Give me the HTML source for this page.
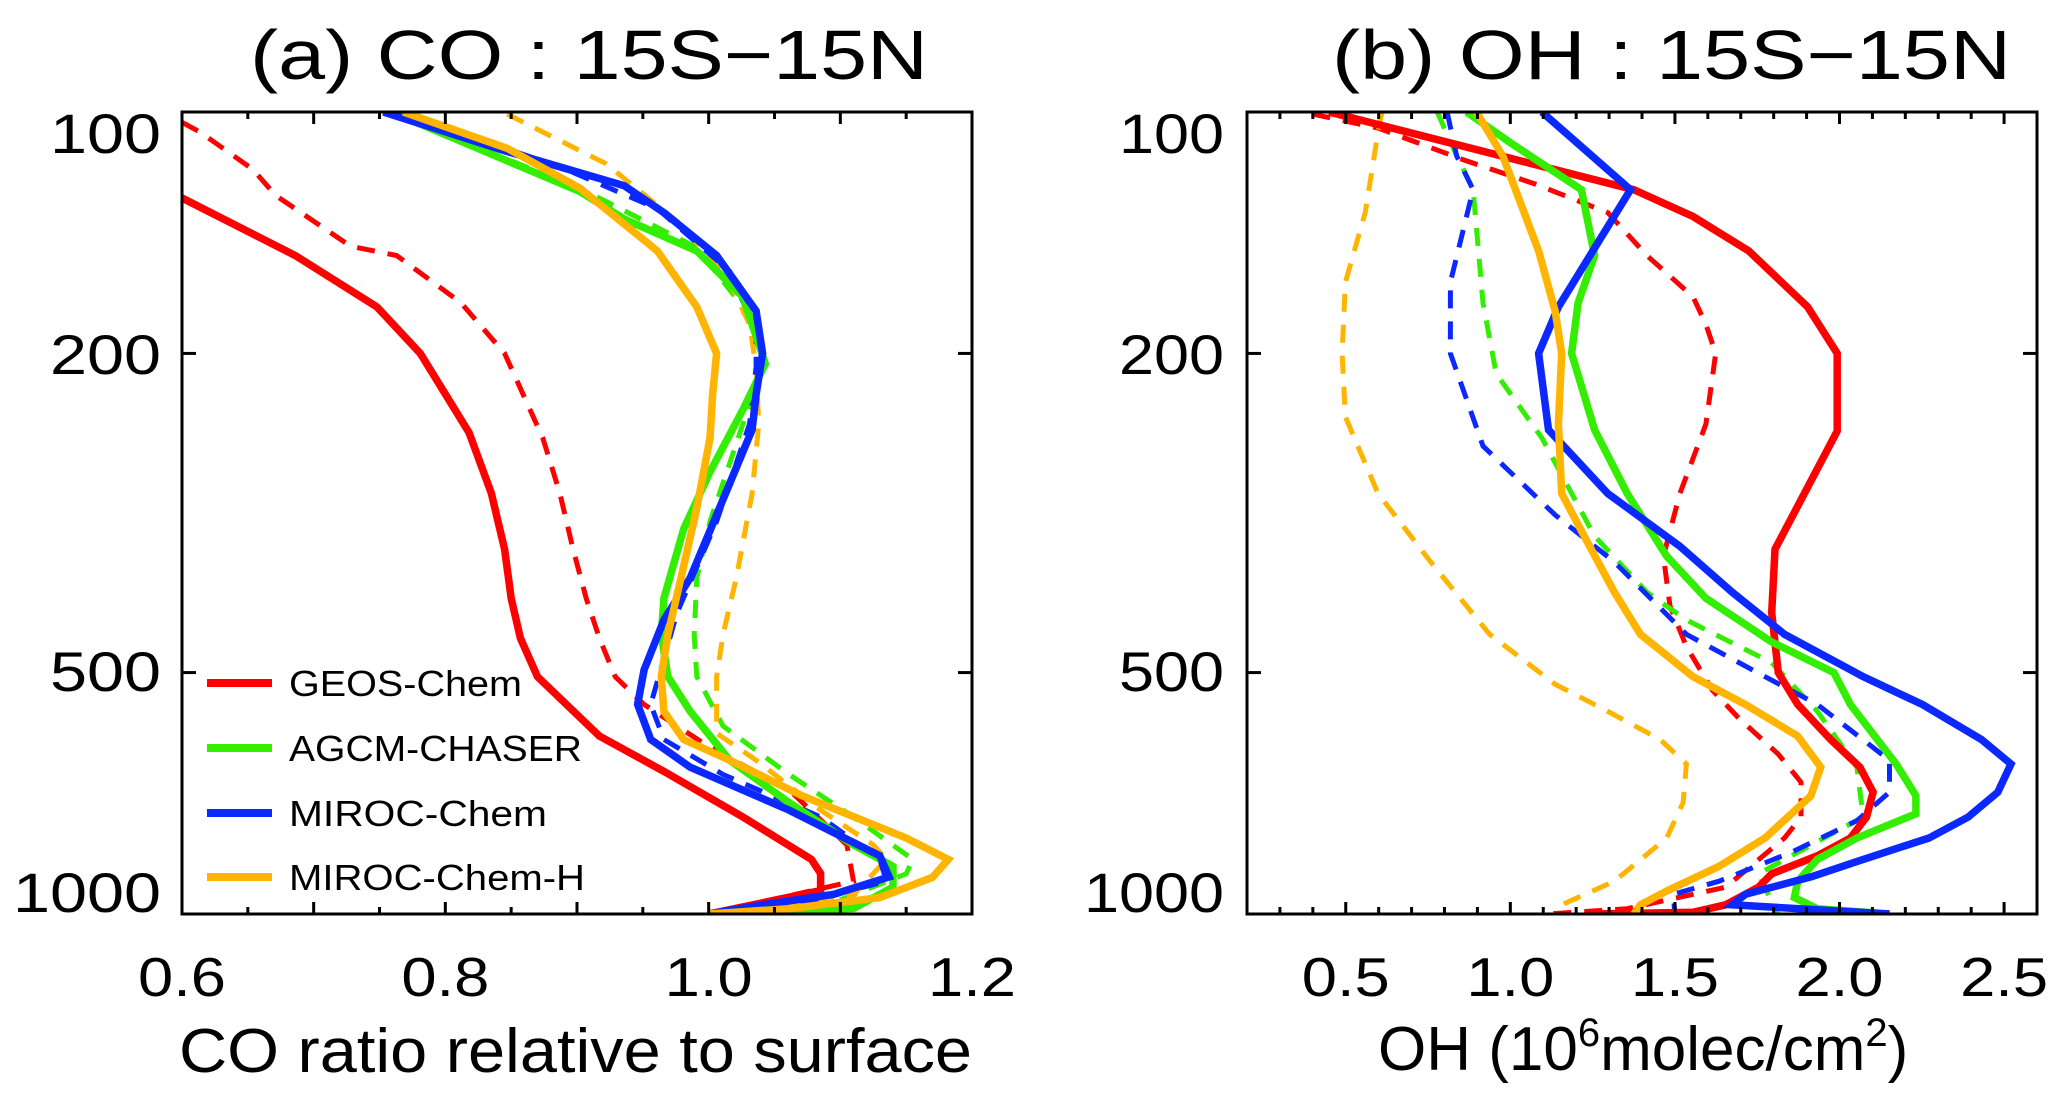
<!DOCTYPE html>
<html><head><meta charset="utf-8"><style>
html,body{margin:0;padding:0;background:#fff;}
svg{display:block;font-family:"Liberation Sans",Arial,sans-serif;}
</style></head><body>
<svg id="chart" width="2067" height="1103" viewBox="0 0 2067 1103" xmlns="http://www.w3.org/2000/svg">
<rect x="0" y="0" width="2067" height="1103" fill="#fff"/>
<g id="panelA"></g>
<g id="panelB"></g>
</svg>
<script>
// ---------- Panel (a) CO data ----------
const aXTicks = [0.6, 0.8, 1.0, 1.2];
const aXTickLabels = ["0.6", "0.8", "1.0", "1.2"];
const yTicks = [100, 200, 500, 1000];
const yTickLabels = ["100", "200", "500", "1000"];
const seriesNames = ["GEOS-Chem", "AGCM-CHASER", "MIROC-Chem", "MIROC-Chem-H"];

const aGeosSolidP = [128,151,175,200,251,299,351,404,453,506,600,664,757,855,890,935,1000];
const aGeosSolidV = [0.600,0.686,0.748,0.781,0.818,0.835,0.845,0.850,0.857,0.870,0.917,0.966,1.026,1.078,1.085,1.085,1.0];
const aGeosDashP = [103,106,118,127,147,151,173,200,255,299,351,404,453,506,548,620,700,820,910,1000];
const aGeosDashV = [0.600,0.614,0.654,0.671,0.728,0.763,0.812,0.845,0.874,0.887,0.897,0.907,0.917,0.929,0.951,1.001,1.061,1.105,1.110,1.0];
const aAgcmSolidP = [100.6,125.6,136,149,170,206,235,281,331,404,448,506,559,643,726,820,872,926,984,1000];
const aAgcmSolidV = [0.763,0.902,0.936,0.991,1.026,1.043,1.026,1.001,0.981,0.966,0.964,0.969,0.986,1.016,1.061,1.110,1.140,1.140,1.110,1.0];
const aAgcmDashP = [100.6,125.6,147.6,181,204,245,324,381,448,506,583,670,757,855,891,960,1000];
const aAgcmDashV = [0.763,0.907,0.991,1.033,1.043,1.026,1.001,0.991,0.989,0.991,1.011,1.061,1.110,1.155,1.150,1.100,1.0];
const aMirocSolidP = [100,112,123.6,133.5,151,177,200,225,249,318,381,430,496,548,606,656,742,846,899,945,974,1000];
const aMirocSolidV = [0.753,0.847,0.936,0.966,1.006,1.036,1.041,1.036,1.033,1.006,0.986,0.966,0.951,0.946,0.956,0.986,1.061,1.130,1.137,1.095,1.041,1.0];
const aMirocDashP = [100,117,132,158,188,208,245,324,421,548,606,670,757,855,910,960,1000];
const aMirocDashV = [0.763,0.887,0.961,1.016,1.036,1.036,1.031,1.006,0.976,0.956,0.966,1.011,1.085,1.130,1.135,1.080,1.0];
const aMirocHSolidP = [100,111,124.4,149,175,200,225,255,312,381,448,506,559,606,643,711,804,855,900,954,985,1000];
const aMirocHSolidV = [0.768,0.847,0.902,0.961,0.991,1.006,1.003,1.001,0.991,0.979,0.969,0.964,0.966,0.981,1.016,1.070,1.150,1.182,1.170,1.130,1.061,1.0];
const aMirocHDashP = [100.6,116,139,163,184,208,245,299,381,448,506,595,643,742,820,855,947,1000];
const aMirocHDashV = [0.847,0.922,0.981,1.016,1.031,1.036,1.038,1.033,1.021,1.011,1.006,1.006,1.036,1.085,1.125,1.135,1.110,1.0];

// ---------- Panel (b) OH data ----------
const bXTicks = [0.5, 1.0, 1.5, 2.0, 2.5];
const bXTickLabels = ["0.5", "1.0", "1.5", "2.0", "2.5"];

const bGeosSolidP = [100,125,135,149,175,200,250,351,421,500,548,606,656,705,757,804,846,891,926,974,995,1000];
const bGeosSolidV = [0.449,1.375,1.555,1.724,1.903,1.993,1.993,1.804,1.794,1.814,1.873,1.973,2.062,2.102,2.082,2.033,1.933,1.794,1.754,1.654,1.555,1.236];
const bGeosDashP = [100.6,104.7,114.7,123,133.5,151,170,184,200,245,299,358,413,464,526,570,632,685,757,804,926,985,1000];
const bGeosDashV = [0.399,0.598,0.857,1.076,1.296,1.415,1.555,1.594,1.624,1.594,1.515,1.465,1.485,1.535,1.614,1.694,1.814,1.883,1.883,1.833,1.654,1.355,1.116];
const bAgcmSolidP = [100,109,125,151,173,200,249,299,358,404,458,500,548,650,712,750,804,855,910,954,985,1000];
const bAgcmSolidV = [0.867,0.997,1.216,1.256,1.206,1.186,1.256,1.355,1.475,1.594,1.794,1.983,2.033,2.172,2.232,2.232,2.053,1.933,1.873,1.863,1.933,2.152];
const bAgcmDashP = [100,109,125,173,212,255,338,397,430,486,559,656,757,804,891,964,1000];
const bAgcmDashV = [0.778,0.818,0.887,0.917,0.957,1.096,1.256,1.415,1.535,1.794,1.933,2.053,2.072,1.953,1.754,1.794,1.813];
const bMirocSolidP = [100,125,175,200,249,299,348,397,448,506,548,606,650,705,757,804,855,899,945,974,1000];
const bMirocSolidV = [1.096,1.365,1.146,1.086,1.116,1.296,1.515,1.674,1.833,2.072,2.252,2.431,2.521,2.481,2.391,2.272,2.072,1.913,1.714,1.674,2.152];
const bMirocDashP = [100,113.5,125,163,200,261,318,364,448,506,548,643,705,765,838,910,945,1000];
const bMirocDashV = [0.808,0.837,0.887,0.818,0.818,0.917,1.136,1.316,1.535,1.774,1.933,2.152,2.152,2.053,1.853,1.634,1.495,1.500];
const bMirocHSolidP = [100,113.5,149,177,200,245,299,345,397,448,506,548,600,656,712,804,872,936,974,1000];
const bMirocHSolidV = [0.897,0.977,1.086,1.136,1.156,1.146,1.156,1.236,1.316,1.395,1.555,1.714,1.873,1.943,1.913,1.774,1.634,1.475,1.395,1.375];
const bMirocHDashP = [100,106,133.5,163,200,240,299,364,448,517,559,606,650,726,804,910,974,1000];
const bMirocHDashV = [0.610,0.598,0.559,0.499,0.489,0.499,0.598,0.758,0.937,1.136,1.296,1.455,1.535,1.525,1.475,1.316,1.156,1.136];

const NS = "http://www.w3.org/2000/svg";
const COLORS = ["#ff0000", "#33ee00", "#0a28ff", "#ffb400"];
function mk(tag, attrs, parent) {
  const e = document.createElementNS(NS, tag);
  for (const k in attrs) e.setAttribute(k, attrs[k]);
  parent.appendChild(e);
  return e;
}

const TOP = 112, BOT = 914;
function yScale(p) { return TOP + (BOT - TOP) * Math.log10(p / 100); }

function drawPanel(g, cfg) {
  const xs = v => cfg.x0 + (cfg.x1 - cfg.x0) * (v - cfg.min) / (cfg.max - cfg.min);
  const clip = mk("clipPath", {id: cfg.id + "clip"}, g);
  mk("rect", {x: cfg.x0, y: TOP, width: cfg.x1 - cfg.x0, height: BOT - TOP}, clip);
  const lines = mk("g", {"clip-path": "url(#" + cfg.id + "clip)"}, g);
  
  
  cfg.series.forEach(s => {
    const pts = s.p.map((p, i) => xs(s.v[i]).toFixed(1) + "," + yScale(p).toFixed(1)).join(" ");
    const pl = mk("polyline", {points: pts, fill: "none", stroke: COLORS[s.c],
      "stroke-width": s.dash ? 5 : 7.5, "stroke-linejoin": "miter", "stroke-dasharray": s.dash ? "18 13" : "none"}, lines);
    
    
  });
  const fr = mk("rect", {x: cfg.x0, y: TOP, width: cfg.x1 - cfg.x0, height: BOT - TOP, fill: "none", stroke: "#000", "stroke-width": 3}, g);
  
  
  const tg = mk("g", {stroke: "#000", "stroke-width": 3}, g);
  
  
  const n = Math.round((cfg.max - cfg.min) / cfg.minor);
  for (let i = 1; i < n; i++) {
    const v = cfg.min + i * cfg.minor;
    const major = Math.abs(v / cfg.major - Math.round(v / cfg.major)) < 1e-6;
    const L = major ? 12 : 7;
    const x = xs(v);
    mk("line", {x1: x, x2: x, y1: BOT, y2: BOT - L}, tg);
    mk("line", {x1: x, x2: x, y1: TOP, y2: TOP + L}, tg);
  }
  [200, 500].forEach(p => {
    const y = yScale(p);
    mk("line", {x1: cfg.x0, x2: cfg.x0 + 14, y1: y, y2: y}, tg);
    mk("line", {x1: cfg.x1, x2: cfg.x1 - 14, y1: y, y2: y}, tg);
  });
  const yBase = [153, 374, 691, 912];
  yTicks.forEach((p, i) => {
    const t = mk("text", {x: cfg.yLabRight, y: yBase[i], "text-anchor": "end", "font-size": 56, fill: "#000",
      textLength: yTickLabels[i].length * cfg.digitW, lengthAdjust: "spacingAndGlyphs"}, g);
    t.textContent = yTickLabels[i];
    
    
  });
  cfg.ticks.forEach((v, i) => {
    const t = mk("text", {x: xs(v), y: 996, "text-anchor": "middle", "font-size": 55, fill: "#000",
      textLength: 88, lengthAdjust: "spacingAndGlyphs"}, g);
    t.textContent = cfg.tickLabels[i];
    
    
  });
}

const gA = document.getElementById("panelA");
drawPanel(gA, {id: "a", x0: 182, x1: 972, min: 0.6, max: 1.2, minor: 0.05, major: 0.1,
  ticks: aXTicks, tickLabels: aXTickLabels, yLabRight: 161, digitW: 37,
  series: [
    {name: "geos-chem-solid", p: aGeosSolidP, v: aGeosSolidV, c: 0},
    {name: "geos-chem-dashed", p: aGeosDashP, v: aGeosDashV, c: 0, dash: 1},
    {name: "agcm-chaser-dashed", p: aAgcmDashP, v: aAgcmDashV, c: 1, dash: 1},
    {name: "miroc-chem-h-dashed", p: aMirocHDashP, v: aMirocHDashV, c: 3, dash: 1},
    {name: "miroc-chem-dashed", p: aMirocDashP, v: aMirocDashV, c: 2, dash: 1},
    {name: "agcm-chaser-solid", p: aAgcmSolidP, v: aAgcmSolidV, c: 1},
    {name: "miroc-chem-solid", p: aMirocSolidP, v: aMirocSolidV, c: 2},
    {name: "miroc-chem-h-solid", p: aMirocHSolidP, v: aMirocHSolidV, c: 3}
  ]});

const gB = document.getElementById("panelB");
drawPanel(gB, {id: "b", x0: 1247, x1: 2037, min: 0.2, max: 2.6, minor: 0.1, major: 0.5,
  ticks: bXTicks, tickLabels: bXTickLabels, yLabRight: 1224, digitW: 35,
  series: [
    {name: "geos-chem-dashed", p: bGeosDashP, v: bGeosDashV, c: 0, dash: 1},
    {name: "miroc-chem-h-dashed", p: bMirocHDashP, v: bMirocHDashV, c: 3, dash: 1},
    {name: "agcm-chaser-dashed", p: bAgcmDashP, v: bAgcmDashV, c: 1, dash: 1},
    {name: "miroc-chem-dashed", p: bMirocDashP, v: bMirocDashV, c: 2, dash: 1},
    {name: "geos-chem-solid", p: bGeosSolidP, v: bGeosSolidV, c: 0},
    {name: "agcm-chaser-solid", p: bAgcmSolidP, v: bAgcmSolidV, c: 1},
    {name: "miroc-chem-solid", p: bMirocSolidP, v: bMirocSolidV, c: 2},
    {name: "miroc-chem-h-solid", p: bMirocHSolidP, v: bMirocHSolidV, c: 3}
  ]});

function txt(parent, x, y, s, size, len, name, anchor) {
  const t = mk("text", {x: x, y: y, "font-size": size, fill: "#000", "text-anchor": anchor || "start",
    textLength: len, lengthAdjust: "spacingAndGlyphs"}, parent);
  t.textContent = s;
  
  
  return t;
}
txt(gA, 250, 79, "(a) CO : 15S\u221215N", 70, 678, "panel-a-title");
txt(gB, 1332, 79, "(b) OH : 15S\u221215N", 70, 679, "panel-b-title");
txt(gA, 179, 1072, "CO ratio relative to surface", 62, 793, "x-axis-title-a");
const xb = mk("text", {x: 1378, y: 1070, "font-size": 62, fill: "#000"}, gB);


xb.innerHTML = 'OH (10<tspan dy="-24" font-size="40">6</tspan><tspan dy="24">molec/cm</tspan><tspan dy="-24" font-size="40">2</tspan><tspan dy="24">)</tspan>';

const leg = mk("g", {}, gA);


const legY = [683, 748, 813, 877];
const legLen = [233, 293, 258, 296];
seriesNames.forEach((nm, i) => {
  const ln = mk("line", {x1: 207, x2: 272, y1: legY[i], y2: legY[i], stroke: COLORS[i], "stroke-width": 8}, leg);
  
  
  txt(leg, 289, legY[i] + 13, nm, 36, legLen[i], "legend-entry");
});
</script>
</body></html>
